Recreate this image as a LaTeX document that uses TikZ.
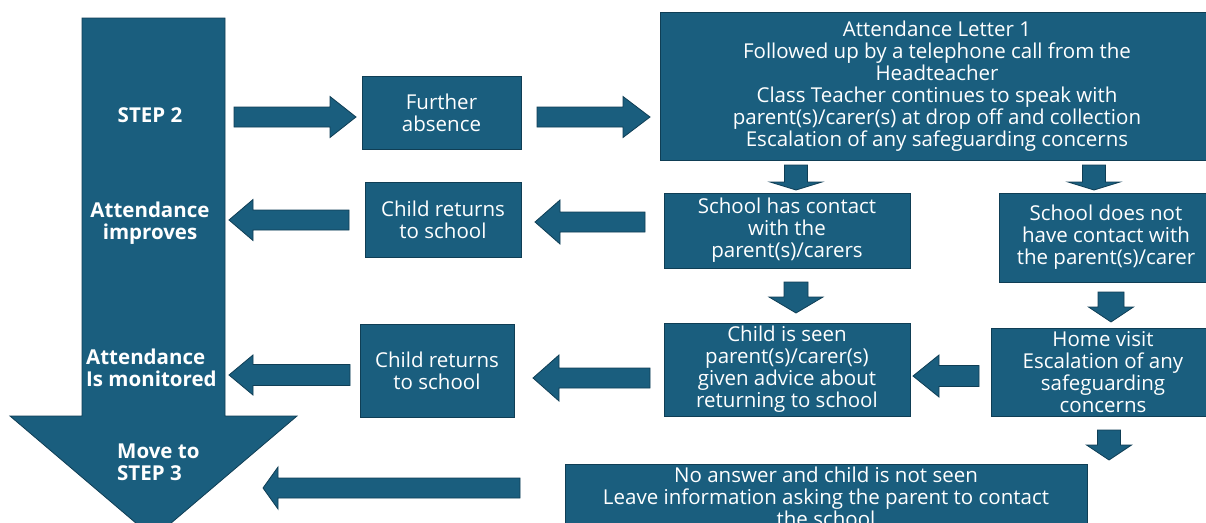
\documentclass[tikz,border=0pt]{standalone}
\usepackage{fontspec}
\setmainfont{Open Sans}
\usetikzlibrary{calc}
\definecolor{mainblue}{HTML}{1A5E7E}
\definecolor{edgeblue}{HTML}{0F3E55}
\tikzset{
  box/.style={draw=edgeblue, line width=1pt, fill=mainblue, text=white, align=center, inner sep=0pt, font=\fontsize{20.5}{22}\selectfont},
  blockarrow/.style={draw=edgeblue, line width=0.8pt, fill=mainblue, line join=miter},
  bigtext/.style={text=white, font=\bfseries\fontsize{20.5}{22}\selectfont, inner sep=0pt},
}
\newcommand\barrow[5]{%
  \coordinate (hb) at ($(#2)!#5!(#1)$);
  \filldraw[blockarrow] ($(#1)!#3!90:(#2)$) -- ($(hb)!#3!90:(#2)$) -- ($(hb)!#4!90:(#2)$) -- (#2) -- ($(hb)!#4!-90:(#2)$) -- ($(hb)!#3!-90:(#2)$) -- ($(#1)!#3!-90:(#2)$) -- cycle;}
\begin{document}
\begin{tikzpicture}[x=1pt,y=-1pt]
\useasboundingbox (0,0) rectangle (1206,522);
\clip (0,0) rectangle (1206,522);
\fill[white] (0,0) rectangle (1206,522);
% big step arrow
\filldraw[blockarrow] (82,18) -- (225,18) -- (225,416) -- (297,416) -- (153.5,538) -- (10,416) -- (82,416) -- cycle;
\node[bigtext] (step2) at (150,115) {STEP 2};
\node[bigtext, align=center] (improves) at (150,223) {Attendance\\improves};
\node[bigtext, align=left, anchor=west] (monitored) at (86,368) {Attendance\\Is monitored};
\node[bigtext, align=left, anchor=west] (step3) at (117,462) {Move to\\STEP 3};
% boxes
\node[box, minimum width=159, minimum height=73] (further) at (441.5,112.5) {Further\\absence};
\node[box, minimum width=554, minimum height=148] (letter) at (937,86) {Attendance Letter 1\\Followed up by a telephone call from the\\Headteacher\\Class Teacher continues to speak with\\parent(s)/carer(s) at drop off and collection\\Escalation of any safeguarding concerns};
\node[box, minimum width=246, minimum height=75] (contact) at (787,230.5) {School has contact\\with the\\parent(s)/carers};
\node[box, minimum width=214, minimum height=89] (nocontact) at (1106,237.5) {School does not\\have contact with\\the parent(s)/carer};
\node[box, minimum width=156, minimum height=75] (returnsA) at (443,219.5) {Child returns\\to school};
\node[box, minimum width=246, minimum height=93] (seen) at (787,369.5) {Child is seen\\parent(s)/carer(s)\\given advice about\\returning to school};
\node[box, minimum width=224, minimum height=88] (home) at (1103,372) {Home visit\\Escalation of any\\safeguarding\\concerns};
\node[box, minimum width=154, minimum height=93] (returnsB) at (437,370.5) {Child returns\\to school};
\node[box, minimum width=522, minimum height=66] (noanswer) at (826,497) {No answer and child is not seen\\Leave information asking the parent to contact\\the school};
% arrow end points
\coordinate (a1s) at (234,117);  \coordinate (a1e) at (356,117);
\coordinate (a2s) at (537,117);  \coordinate (a2e) at (650,117);
\coordinate (d1s) at (796,165);  \coordinate (d1e) at (796,190);
\coordinate (d2s) at (1094,165); \coordinate (d2e) at (1094,190);
\coordinate (d3s) at (796,282);  \coordinate (d3e) at (796,313);
\coordinate (d4s) at (1111,292); \coordinate (d4e) at (1111,322);
\coordinate (d5s) at (1109,430); \coordinate (d5e) at (1109,460);
\coordinate (l1s) at (349,220);  \coordinate (l1e) at (229,220);
\coordinate (l2s) at (645,222);  \coordinate (l2e) at (535,222);
\coordinate (l3s) at (979,376);  \coordinate (l3e) at (913,376);
\coordinate (l4s) at (650,378);  \coordinate (l4e) at (533,378);
\coordinate (l5s) at (350,375);  \coordinate (l5e) at (229,375);
\coordinate (l6s) at (520,488);  \coordinate (l6e) at (263,488);
% arrows
\barrow{a1s}{a1e}{10pt}{20.5pt}{26pt}
\barrow{a2s}{a2e}{10pt}{20.5pt}{27pt}
\barrow{d1s}{d1e}{11.5pt}{26pt}{8pt}
\barrow{d2s}{d2e}{11.5pt}{26pt}{8pt}
\barrow{d3s}{d3e}{12pt}{27pt}{16pt}
\barrow{d4s}{d4e}{13pt}{22.5pt}{15pt}
\barrow{d5s}{d5e}{11.5pt}{22.5pt}{15pt}
\barrow{l1s}{l1e}{10pt}{20.5pt}{24pt}
\barrow{l2s}{l2e}{10pt}{22pt}{25pt}
\barrow{l3s}{l3e}{10.5pt}{21pt}{26pt}
\barrow{l4s}{l4e}{10pt}{23pt}{26pt}
\barrow{l5s}{l5e}{10.5pt}{20pt}{24pt}
\barrow{l6s}{l6e}{10pt}{21pt}{15pt}
\end{tikzpicture}
\end{document}
